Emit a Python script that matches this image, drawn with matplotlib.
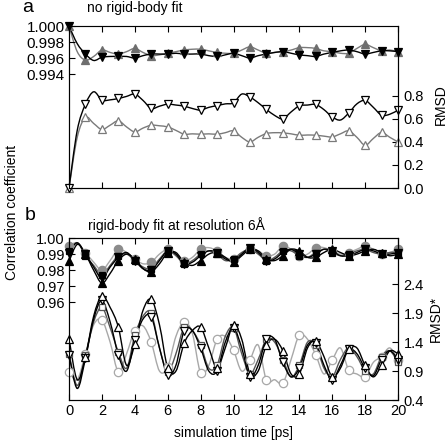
import matplotlib
matplotlib.use('Agg')
import matplotlib.pyplot as plt
from matplotlib.path import Path
from matplotlib.patches import PathPatch
import numpy as np

plt.rcParams['font.family'] = ['Liberation Sans', 'DejaVu Sans']
plt.rcParams['font.size'] = 10

# time axis, 0.5 ps sampling (markers every 1 ps)
t = np.arange(41) * 0.5

# ---- panel a: no rigid-body fit ----
corr_a_black = [1.000, 0.9978, 0.9965, 0.9957, 0.9961, 0.9962, 0.9962, 0.9962, 0.9960, 0.9963,
                0.9965, 0.9965, 0.9965, 0.9966, 0.9965, 0.9965, 0.9965, 0.9963, 0.9962, 0.9964,
                0.9966, 0.9963, 0.9960, 0.9963, 0.9965, 0.9967, 0.9968, 0.9966, 0.9964, 0.9963,
                0.9962, 0.9965, 0.9967, 0.9969, 0.9970, 0.9968, 0.9965, 0.9967, 0.9969, 0.9969, 0.9968]
corr_a_gray = [1.000, 0.9968, 0.99575, 0.9962, 0.9970, 0.9967, 0.9965, 0.9968, 0.9972, 0.9967,
               0.9963, 0.9964, 0.9966, 0.9968, 0.9970, 0.9971, 0.9971, 0.9969, 0.9967, 0.9966,
               0.9966, 0.9970, 0.9974, 0.9970, 0.9966, 0.9967, 0.9968, 0.9970, 0.9973, 0.9973,
               0.9972, 0.9969, 0.9968, 0.9966, 0.9966, 0.9972, 0.9977, 0.9973, 0.9969, 0.9970, 0.9968]
rmsd_a_black = [0.0, 0.50, 0.728, 0.835, 0.763, 0.765, 0.777, 0.795, 0.815, 0.76,
                0.690, 0.71, 0.728, 0.72, 0.710, 0.69, 0.676, 0.70, 0.715, 0.73,
                0.739, 0.815, 0.79, 0.74, 0.682, 0.63, 0.600, 0.66, 0.713, 0.72,
                0.725, 0.68, 0.617, 0.59, 0.650, 0.73, 0.760, 0.70, 0.632, 0.64, 0.676]
rmsd_a_gray = [0.0, 0.44, 0.612, 0.56, 0.508, 0.545, 0.583, 0.53, 0.487, 0.52,
               0.545, 0.54, 0.530, 0.50, 0.467, 0.47, 0.467, 0.47, 0.467, 0.48,
               0.496, 0.44, 0.40, 0.44, 0.473, 0.48, 0.478, 0.47, 0.458, 0.46,
               0.458, 0.45, 0.443, 0.47, 0.496, 0.44, 0.371, 0.43, 0.482, 0.44, 0.40]

# ---- panel b: rigid-body fit at 6 A ----
corr_b_up = [0.9855, 0.996, 0.990, 0.980, 0.972, 0.978, 0.986, 0.990, 0.987, 0.981,
             0.979, 0.984, 0.991, 0.991, 0.985, 0.983, 0.986, 0.990, 0.991, 0.988,
             0.985, 0.989, 0.993, 0.992, 0.987, 0.986, 0.989, 0.993, 0.992, 0.988,
             0.988, 0.991, 0.993, 0.991, 0.989, 0.990, 0.992, 0.993, 0.991, 0.989, 0.990]
corr_b_down = [0.991, 0.997, 0.990, 0.982, 0.975, 0.982, 0.988, 0.991, 0.986, 0.981,
               0.980, 0.986, 0.992, 0.990, 0.984, 0.985, 0.989, 0.992, 0.991, 0.987,
               0.986, 0.990, 0.994, 0.991, 0.986, 0.987, 0.991, 0.993, 0.990, 0.988,
               0.990, 0.993, 0.992, 0.989, 0.989, 0.991, 0.993, 0.992, 0.990, 0.990, 0.991]
corr_b_sq = [0.992, 0.997, 0.989, 0.983, 0.977, 0.983, 0.989, 0.990, 0.986, 0.982,
             0.981, 0.987, 0.992, 0.989, 0.984, 0.986, 0.990, 0.992, 0.990, 0.986,
             0.987, 0.991, 0.993, 0.990, 0.986, 0.988, 0.992, 0.992, 0.989, 0.988,
             0.991, 0.993, 0.991, 0.989, 0.990, 0.992, 0.993, 0.991, 0.990, 0.991, 0.991]
corr_b_circ = [0.995, 0.997, 0.991, 0.985, 0.980, 0.986, 0.993, 0.991, 0.987, 0.984,
               0.985, 0.990, 0.993, 0.990, 0.986, 0.988, 0.993, 0.994, 0.992, 0.988,
               0.987, 0.990, 0.993, 0.992, 0.989, 0.990, 0.995, 0.993, 0.989, 0.990,
               0.994, 0.994, 0.992, 0.990, 0.991, 0.993, 0.995, 0.993, 0.990, 0.991, 0.993]

rmsd_b_up = [1.46, 0.75, 1.15, 1.85, 2.20, 2.00, 1.66, 1.00, 1.37, 1.95,
             2.14, 1.70, 0.95, 0.90, 1.38, 1.60, 1.66, 1.30, 0.95, 1.30,
             1.70, 1.45, 0.85, 0.90, 1.35, 1.45, 1.25, 0.85, 0.85, 1.30,
             1.42, 1.15, 0.80, 0.95, 1.28, 1.30, 1.00, 0.80, 1.00, 1.25, 1.20]
rmsd_b_down = [1.18, 0.60, 1.12, 1.80, 2.12, 1.75, 1.18, 0.90, 1.43, 1.80,
               1.84, 1.30, 0.83, 1.00, 1.60, 1.60, 1.30, 0.90, 0.90, 1.40,
               1.65, 1.30, 0.80, 1.00, 1.45, 1.45, 1.05, 0.80, 0.95, 1.35,
               1.38, 1.00, 0.75, 1.00, 1.28, 1.20, 0.95, 0.82, 1.10, 1.25, 1.10]
rmsd_b_sq = [1.20, 0.65, 1.17, 1.75, 2.00, 1.65, 1.23, 0.95, 1.52, 1.85,
             1.90, 1.30, 0.88, 1.20, 1.66, 1.60, 1.35, 0.95, 1.00, 1.50,
             1.65, 1.20, 0.85, 1.10, 1.45, 1.40, 1.10, 0.80, 1.00, 1.40,
             1.35, 0.95, 0.80, 1.10, 1.30, 1.15, 0.90, 0.85, 1.15, 1.25, 1.05]
rmsd_b_circ = [0.89, 0.75, 1.20, 1.70, 1.78, 1.40, 0.89, 1.20, 1.60, 1.68,
               1.40, 0.90, 0.97, 1.50, 1.75, 1.55, 0.87, 1.00, 1.45, 1.50,
               1.26, 0.90, 1.09, 1.35, 0.74, 0.75, 0.69, 1.10, 1.52, 1.45,
               1.18, 0.85, 1.09, 1.30, 0.92, 0.85, 0.80, 1.05, 1.15, 1.30, 1.10]

xticks = [0, 2, 4, 6, 8, 10, 12, 14, 16, 18, 20]

fig = plt.figure(figsize=(4.48, 4.43), dpi=100)
W, H = 448., 443.
axa = fig.add_axes([69/W, 1-188/H, 329/W, 162/H])
axb = fig.add_axes([69/W, 1-400/H, 329/W, 162/H])
axa2 = axa.twinx()
axb2 = axb.twinx()

black = '#000000'
gray = '#7a7a7a'
dgray = '#555555'
lgray = '#a8a8a8'


def smooth_line(ax, x, y, col):
    # smooth curve through the points (Catmull-Rom as cubic Bezier segments)
    p = np.column_stack([x, y]).astype(float)
    n = len(p)
    verts = [p[0]]
    codes = [Path.MOVETO]
    for i in range(n - 1):
        p0 = p[i - 1] if i > 0 else p[i]
        p3 = p[i + 2] if i + 2 < n else p[i + 1]
        c1 = p[i] + (p[i + 1] - p0) / 6.0
        c2 = p[i + 1] - (p3 - p[i]) / 6.0
        verts += [c1, c2, p[i + 1]]
        codes += [Path.CURVE4] * 3
    ax.add_patch(PathPatch(Path(verts, codes), fill=False, edgecolor=col,
                           lw=1.0, transform=ax.transData, clip_on=False))


def draw(ax, y, col, mk, filled, ms=6.0, mcol=None):
    mcol = mcol or col
    y = np.asarray(y)
    smooth_line(ax, t, y, col)
    ax.plot(t[::2], y[::2], ls='none', marker=mk, ms=ms,
            mfc=mcol if filled else 'white', mec=mcol, mew=0.9, clip_on=False)


# panel a
draw(axa, corr_a_gray, gray, '^', True, ms=5.5, mcol='#6e6e6e')
draw(axa, corr_a_black, black, 'v', True, ms=5.5)
draw(axa2, rmsd_a_gray, gray, '^', False)
draw(axa2, rmsd_a_black, black, 'v', False)

axa.set_xlim(0, 20)
axa.set_ylim(0.97979, 1.0)
axa.set_yticks([0.994, 0.996, 0.998, 1.000])
axa.set_yticklabels(['0.994', '0.996', '0.998', '1.000'])
axa2.set_ylim(0, 1.406)
axa2.set_yticks([0.0, 0.2, 0.4, 0.6, 0.8])
axa2.set_yticklabels(['0.0', '0.2', '0.4', '0.6', '0.8'])
axa.set_xticks(xticks)
axa.tick_params(axis='x', labelbottom=False)

# panel b
draw(axb, corr_b_circ, lgray, 'o', True, ms=6.0, mcol='#8c8c8c')
draw(axb, corr_b_sq, dgray, 's', True, ms=5.0, mcol=black)
draw(axb, corr_b_down, black, 'v', True, ms=5.5)
draw(axb, corr_b_up, black, '^', True, ms=5.5)
draw(axb2, rmsd_b_circ, lgray, 'o', False)
draw(axb2, rmsd_b_sq, dgray, 's', False, ms=5.0)
draw(axb2, rmsd_b_down, black, 'v', False)
draw(axb2, rmsd_b_up, black, '^', False)

axb.set_xlim(0, 20)
axb.set_ylim(0.8995, 1.0)
axb.set_yticks([0.96, 0.97, 0.98, 0.99, 1.00])
axb.set_yticklabels(['0.96', '0.97', '0.98', '0.99', '1.00'])
axb2.set_ylim(0.4, 3.2)
axb2.set_yticks([0.4, 0.9, 1.4, 1.9, 2.4])
axb.set_xticks(xticks)

for ax in (axa, axb):
    ax.tick_params(axis='both', direction='in', length=4, top=True, labelsize=10.5, pad=3)
axa.tick_params(axis='y', labelsize=11)
for ax in (axa2, axb2):
    ax.tick_params(axis='y', direction='in', length=4, labelsize=10.5, pad=4)
axa.spines['top'].set_color('#888888')

fig.text(28/W, 1-8/H, 'a', fontsize=14, ha='center', va='center')
fig.text(30/W, 1-215/H, 'b', fontsize=14, ha='center', va='center')
fig.text(87/W, 1-8/H, 'no rigid-body fit', ha='left', va='center')
fig.text(88/W, 1-225/H, 'rigid-body fit at resolution 6Å', ha='left', va='center')
fig.text(12/W, 1-212/H, 'Correlation coefficient', rotation=90, ha='center', va='center')
fig.text(441/W, 1-105/H, 'RMSD', rotation=90, ha='center', va='center')
fig.text(436/W, 1-319/H, 'RMSD*', rotation=90, ha='center', va='center')
fig.text(233/W, 1-433/H, 'simulation time [ps]', ha='center', va='center')

fig.savefig('out.png', dpi=100)
